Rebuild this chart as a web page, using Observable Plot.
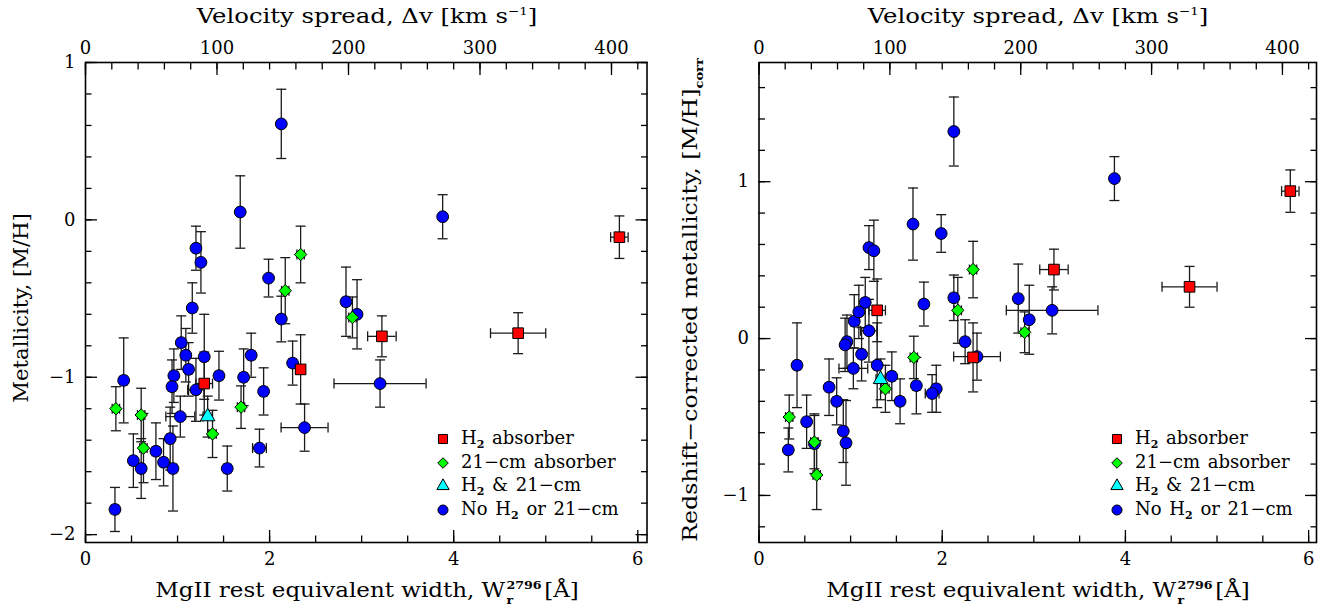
<!DOCTYPE html>
<html><head><meta charset="utf-8">
<script src="https://cdn.jsdelivr.net/npm/d3@7"></script>
<script src="https://cdn.jsdelivr.net/npm/@observablehq/plot@0.6"></script>
<style>
body{margin:0;background:#fff;font-family:"DejaVu Serif",serif;}
#wrap{position:relative;width:1325px;height:611px;overflow:hidden;}
.panel{position:absolute;top:0;}
.lbl{position:absolute;font-size:20px;white-space:nowrap;color:#000;line-height:1;}
.stk{display:inline-block;position:relative;width:34px;height:0.75em;}
.sp{position:absolute;left:1px;top:-2px;font-size:11px;font-weight:bold;}
.sb{position:absolute;left:1px;top:13px;font-size:11px;font-weight:bold;}
.sub{font-size:11px;font-weight:bold;position:relative;top:6px;}
.legend{position:absolute;font-size:18px;white-space:nowrap;line-height:1;}
</style></head><body><div id="wrap"></div>
<script>
// ---------- data ----------
// No H2 or 21-cm (blue circles)
const blueW      = [2.127,1.681,1.20,1.254,1.989,2.83,2.95,3.88,3.20,1.16,2.127,1.04,1.09,1.12,0.96,0.94,1.29,1.20,1.45,1.718,1.80,1.935,2.25,2.38,1.89,1.54,1.03,0.92,0.95,0.848,0.765,0.605,0.52,0.415,0.32];
const blueWerr   = [0.03,0.03,0.035,0.03,0.03,0.04,0.03,0.03,0.50,0.04,0.04,0.04,0.04,0.04,0.04,0.04,0.04,0.09,0.04,0.04,0.04,0.04,0.04,0.255,0.075,0.04,0.157,0.04,0.04,0.04,0.04,0.04,0.04,0.04,0.04];
const blueMH     = [0.61,0.05,-0.18,-0.27,-0.37,-0.52,-0.60,0.02,-1.04,-0.56,-0.63,-0.78,-0.86,-0.95,-0.99,-1.06,-0.87,-1.08,-0.99,-1.00,-0.86,-1.09,-0.91,-1.32,-1.45,-1.58,-1.25,-1.39,-1.58,-1.54,-1.47,-1.58,-1.53,-1.02,-1.84];
const blueMHcorr = [1.32,0.73,0.58,0.56,0.67,0.255,0.12,1.02,0.18,0.23,0.26,0.11,0.17,-0.10,-0.02,-0.04,-0.17,0.05,-0.24,-0.30,0.22,-0.32,-0.02,-0.115,-0.35,-0.40,-0.19,-0.59,-0.665,-0.40,-0.31,-0.67,-0.53,-0.17,-0.71];
const blueErr    = [0.22,0.23,0.14,0.195,0.12,0.22,0.22,0.14,0.15,0.16,0.145,0.17,0.17,0.17,0.17,0.17,0.27,0.20,0.155,0.18,0.14,0.15,0.14,0.15,0.12,0.143,0.13,0.20,0.27,0.15,0.18,0.19,0.17,0.27,0.14];
// 21-cm absorbers (green diamonds)
const greenW      = [2.337,2.17,2.90,1.69,1.38,0.63,0.605,0.33];
const greenWerr   = [0.04,0.04,0.04,0.04,0.04,0.04,0.04,0.04];
const greenMH     = [-0.22,-0.45,-0.62,-1.19,-1.36,-1.45,-1.24,-1.20];
const greenMHcorr = [0.44,0.18,0.04,-0.12,-0.32,-0.87,-0.66,-0.50];
const greenErr    = [0.18,0.21,0.13,0.135,0.15,0.22,0.17,0.14];
// H2 & 21-cm (cyan triangle)
const cyanW = [1.327], cyanWerr = [0.05], cyanMH = [-1.25], cyanMHcorr = [-0.26], cyanErr = [0.13];
// H2 absorbers (red squares)
const redW      = [3.22,4.70,5.80,1.29,2.337];
const redWerr   = [0.155,0.30,0.095,0.09,0.05];
const redMH     = [-0.74,-0.72,-0.11,-1.04,-0.95];
const redMHcorr = [0.44,0.33,0.94,0.18,-0.12];
const redErr    = [0.13,0.13,0.135,0.20,0.22];

// axis ticks
const kmPerA = 70;                       // velocity axis: km/s per Angstrom
const xMajor = [0,2,4,6];
const xMinor = d3.range(0, 6.01, 0.5);
const vMajor = [0,100,200,300,400];
const vMinor = d3.range(0, 421, 20);
const yMajorL = [-2,-1,0,1];
const yMajorR = [-1,0,1];

// ---------- build ----------
const groups = [
  {name:"blue", fill:"#0000ff", symbol:"circle", r:5.9, W:blueW, We:blueWerr, mh:blueMH, mhc:blueMHcorr, e:blueErr},
  {name:"green", fill:"#00ff00", symbol:"diamond2", r:5.6, W:greenW, We:greenWerr, mh:greenMH, mhc:greenMHcorr, e:greenErr},
  {name:"cyan", fill:"#00ffff", symbol:"triangle", r:5.4, W:cyanW, We:cyanWerr, mh:cyanMH, mhc:cyanMHcorr, e:cyanErr},
  {name:"red", fill:"#ff0000", symbol:"square", r:6.0, W:redW, We:redWerr, mh:redMH, mhc:redMHcorr, e:redErr}
].map(g => ({...g, rows: g.W.map((w,i)=>({W:w, We:g.We[i], mh:g.mh[i], mhc:g.mhc[i], e:g.e[i]}))}));

const hCap = {draw(ctx, size){ const r = Math.sqrt(size/Math.PI); ctx.moveTo(-r,0); ctx.lineTo(r,0); }};
const vCap = {draw(ctx, size){ const r = Math.sqrt(size/Math.PI); ctx.moveTo(0,-r); ctx.lineTo(0,r); }};
const ebStroke = "#1a1a1a", ebW = 1.3;
const FONT = "DejaVu Serif";
const intFmt = d => (d < 0 ? "−" : "") + Math.abs(d);

function panel(key, yDomain, yMajor, opts){
  const yMinor = d3.range(Math.ceil(yDomain[0]*5)/5, yDomain[1]+0.001, 0.2);
  const marks = [];
  for (const g of groups){
    const rows = g.rows;
    marks.push(
      Plot.ruleX(rows, {x:"W", y1:d=>d[key]-d.e, y2:d=>d[key]+d.e, stroke:ebStroke, strokeWidth:ebW}),
      Plot.ruleY(rows, {y:key, x1:d=>d.W-d.We, x2:d=>d.W+d.We, stroke:ebStroke, strokeWidth:ebW}),
      Plot.dot(rows, {x:"W", y:d=>d[key]+d.e, symbol:hCap, r:5, stroke:ebStroke, strokeWidth:ebW}),
      Plot.dot(rows, {x:"W", y:d=>d[key]-d.e, symbol:hCap, r:5, stroke:ebStroke, strokeWidth:ebW}),
      Plot.dot(rows, {x:d=>d.W-d.We, y:key, symbol:vCap, r:5, stroke:ebStroke, strokeWidth:ebW}),
      Plot.dot(rows, {x:d=>d.W+d.We, y:key, symbol:vCap, r:5, stroke:ebStroke, strokeWidth:ebW})
    );
  }
  for (const g of groups){
    marks.push(Plot.dot(g.rows, {x:"W", y:key, symbol:g.symbol, r:g.r, fill:g.fill, stroke:"black", strokeWidth:1}));
  }
  const blank = () => "";
  marks.push(
    // inward ticks on all four sides
    Plot.axisX(xMajor, {anchor:"bottom", tickSize:-12, tickFormat:blank, label:null, strokeWidth:1.3}),
    Plot.axisX(xMinor, {anchor:"bottom", tickSize:-6.5, tickFormat:blank, label:null, strokeWidth:1.3}),
    Plot.axisX(vMajor.map(v=>v/kmPerA), {anchor:"top", tickSize:-12, tickFormat:blank, label:null, strokeWidth:1.3}),
    Plot.axisX(vMinor.map(v=>v/kmPerA), {anchor:"top", tickSize:-6.5, tickFormat:blank, label:null, strokeWidth:1.3}),
    Plot.axisY(yMajor, {anchor:"left", tickSize:-12, tickFormat:blank, label:null, strokeWidth:1.3}),
    Plot.axisY(yMinor, {anchor:"left", tickSize:-6.5, tickFormat:blank, label:null, strokeWidth:1.3}),
    Plot.axisY(yMajor, {anchor:"right", tickSize:-12, tickFormat:blank, label:null, strokeWidth:1.3}),
    Plot.axisY(yMinor, {anchor:"right", tickSize:-6.5, tickFormat:blank, label:null, strokeWidth:1.3}),
    // labels
    Plot.axisX(xMajor, {anchor:"bottom", tickSize:0, tickPadding:10, label:null, fontSize:18, tickFormat:intFmt}),
    Plot.axisX(vMajor.map(v=>v/kmPerA), {anchor:"top", tickSize:0, tickPadding:9, label:null, fontSize:18, tickFormat:d=>String(Math.round(d*kmPerA))}),
    Plot.axisY(yMajor, {anchor:"left", tickSize:0, tickPadding:10, label:null, fontSize:18, tickFormat:intFmt}),
    Plot.frame({stroke:"black", strokeWidth:1.6})
  );
  return Plot.plot({
    width: opts.width, height: 611,
    marginLeft: opts.ml, marginRight: opts.mr, marginTop: opts.mt, marginBottom: opts.mb,
    x: {domain:[0, opts.xmax]},
    y: {domain: yDomain},
    style: {fontFamily: FONT, fontSize:"18px", color:"black", background:"white", overflow:"visible"},
    marks
  });
}

const wrap = document.getElementById("wrap");
const left = panel("mh", [-2.05, 1.0], yMajorL, {width:662, ml:85, mr:15.5, mt:62, mb:69, xmax:6.1});
left.classList.add("panel"); left.style.left = "0px";
wrap.appendChild(left);
const right = panel("mhc", [-1.30, 1.76], yMajorR, {width:663, ml:96.5, mr:9, mt:62, mb:69, xmax:6.086});
right.classList.add("panel"); right.style.left = "662px";
wrap.appendChild(right);

// axis titles: horizontally scaled to the span they cover in the reference
function addLabel(html, cx, cy, rot, targetWidth){
  const d = document.createElement("div");
  d.className = "lbl";
  d.innerHTML = html;
  d.style.left = cx + "px"; d.style.top = cy + "px";
  wrap.appendChild(d);
  const s = targetWidth / d.offsetWidth;
  d.style.transform = `translate(-50%,-50%)` + (rot ? ` rotate(${rot}deg)` : "") + ` scaleX(${s})`;
}
const vTitle = "Velocity spread, Δv [km s<sup style='font-size:11px'>−1</sup>]";
const wTitle = "MgII rest equivalent width, W<span class='stk'><span class='sp'>2796</span><span class='sb'>r</span></span>[Å]";
addLabel(vTitle, 367, 16, 0, 341);
addLabel(vTitle, 1038, 16, 0, 341);
addLabel(wTitle, 367, 590, 0, 424);
addLabel(wTitle, 1038, 590, 0, 424);
addLabel("Metallicity, [M/H]", 21, 308, -90, 190);
addLabel("Redshift−corrected metallicity, [M/H]<span class='sub'>corr</span>", 690, 300, -90, 484);

// legends
const legendItems = [
  {g:"red", html:"H<span class='sub' style='top:4px'>2</span> absorber"},
  {g:"green", html:"21−cm absorber"},
  {g:"cyan", html:"H<span class='sub' style='top:4px'>2</span> &amp; 21−cm"},
  {g:"blue", html:"No H<span class='sub' style='top:4px'>2</span> or 21−cm"}
];
const symMap = {circle:d3.symbolCircle, diamond2:d3.symbolDiamond2, triangle:d3.symbolTriangle, square:d3.symbolSquare};
function addLegend(x0, y0){
  legendItems.forEach((it, i) => {
    const g = groups.find(q => q.name === it.g);
    const y = y0 + i*23.7;
    const svg = d3.create("svg").attr("width", 18).attr("height", 18)
      .style("position","absolute").style("left",(x0-9)+"px").style("top",(y-9)+"px");
    const rr = g.r*0.85;
    svg.append("path").attr("transform","translate(9,9)")
      .attr("d", d3.symbol(symMap[g.symbol], Math.PI*rr*rr)())
      .attr("fill", g.fill).attr("stroke","black").attr("stroke-width",1);
    wrap.appendChild(svg.node());
    const t = document.createElement("div");
    t.className = "legend"; t.innerHTML = it.html;
    t.style.left = (x0+18) + "px"; t.style.top = y + "px";
    t.style.transform = "translateY(-55%)";
    t.style.wordSpacing = "2px";
    wrap.appendChild(t);
  });
}
addLegend(443, 439);
addLegend(1117, 439);
</script></body></html>
